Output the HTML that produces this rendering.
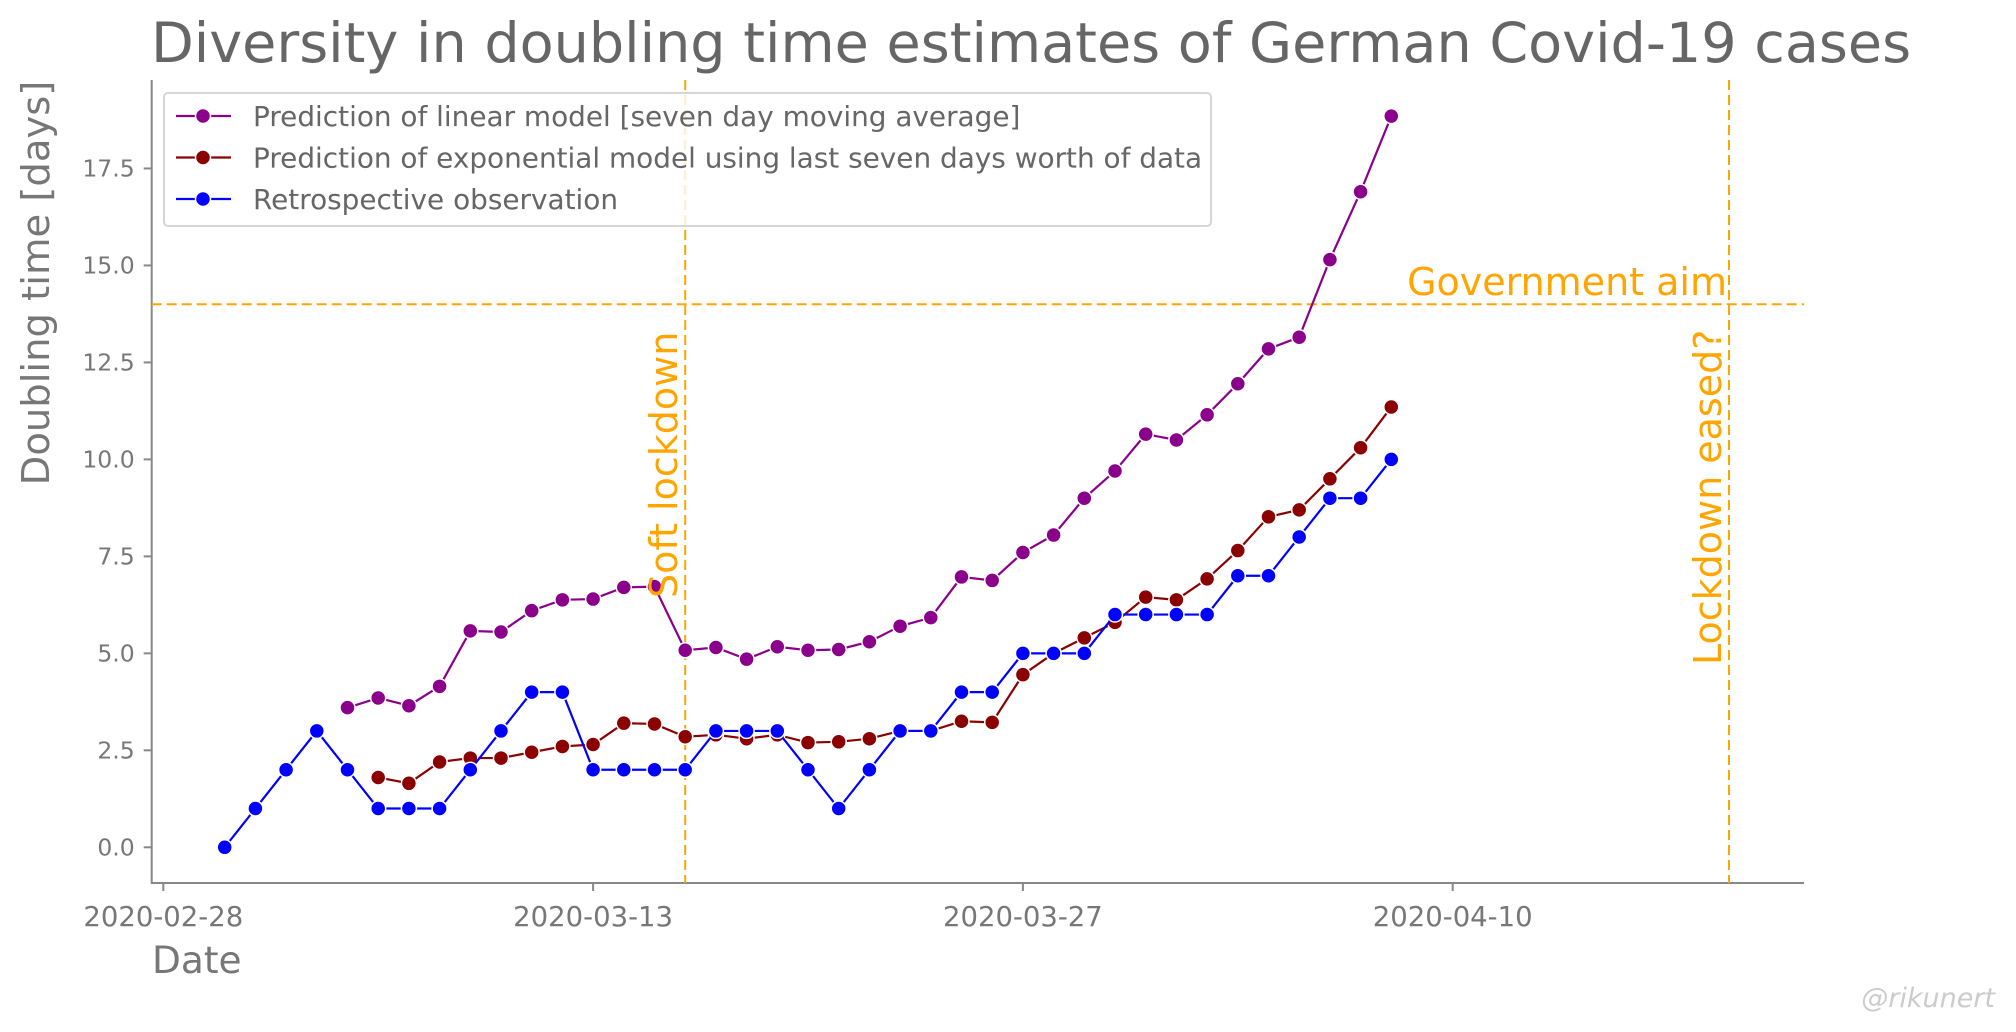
<!DOCTYPE html>
<html><head><meta charset="utf-8"><style>
html,body{margin:0;padding:0;background:#fff;}
svg{display:block;font-family:"DejaVu Sans","Liberation Sans",sans-serif;}
</style></head><body>
<svg id="chart" width="2016" height="1032" viewBox="0 0 2016 1032">
<text x="151" y="62" font-size="55.6" fill="#666">Diversity in doubling time estimates of German Covid-19 cases</text>
<g id="plot"></g>
<text x="36" y="283" font-size="38.5" fill="#777" text-anchor="middle" transform="rotate(-90 36 283)" dy="13">Doubling time [days]</text>
<text x="152" y="973" font-size="37.5" fill="#777">Date</text>
<text x="1995" y="1007" font-size="27" fill="#ccc" font-style="italic" text-anchor="end">@rikunert</text>
</svg>
<script>
const dateTicks = ['2020-02-28','2020-03-13','2020-03-27','2020-04-10'];
const dateTickDays = [0,14,28,42];
const yTicks = [0,2.5,5,7.5,10,12.5,15,17.5];
const observedStart = 2;
const observed = [0,1,2,3,2,1,1,1,2,3,4,4,2,2,2,2,3,3,3,2,1,2,3,3,4,4,5,5,5,6,6,6,6,7,7,8,9,9,10];
const linearStart = 6;
const linear = [3.6,3.85,3.65,4.15,5.58,5.55,6.1,6.38,6.4,6.7,6.72,5.08,5.15,4.85,5.17,5.08,5.1,5.3,5.7,5.92,6.97,6.88,7.6,8.05,9.0,9.7,10.65,10.5,11.15,11.95,12.85,13.15,15.15,16.9,18.85];
const expStart = 7;
const expo = [1.8,1.65,2.2,2.3,2.3,2.45,2.6,2.65,3.2,3.18,2.85,2.9,2.8,2.9,2.7,2.72,2.8,3.0,3.0,3.25,3.22,4.45,5.0,5.4,5.8,6.45,6.38,6.92,7.65,8.52,8.7,9.5,10.3,11.35];
const softLockdownDay = 17;
const easedDay = 51;
const governmentAim = 14;

const NS='http://www.w3.org/2000/svg';
const L=151.7,R=1804,B=883,T=80;
const xS=d=>163.3+d*30.7;
const yS=v=>847.3-v*38.79;
const g=document.getElementById('plot');
function mk(t,a){const e=document.createElementNS(NS,t);for(const k in a)e.setAttribute(k,a[k]);return e;}

let ax=mk('path',{d:`M${L} ${T} V${B} H${R}`,fill:'none',stroke:'#888','stroke-width':2});


g.appendChild(ax);
yTicks.forEach(v=>{
  const y=yS(v);
  const tk=mk('line',{x1:L-8,x2:L,y1:y,y2:y,stroke:'#888','stroke-width':2});
  
  
  g.appendChild(tk);
  const t=mk('text',{x:L-17,y:y+8,'font-size':23.5,fill:'#777','text-anchor':'end'});
  
  
  t.textContent=v.toFixed(1);g.appendChild(t);
});
dateTicks.forEach((s,i)=>{
  const x=xS(dateTickDays[i]);
  const tk=mk('line',{x1:x,x2:x,y1:B,y2:B+8,stroke:'#888','stroke-width':2});
  
  
  g.appendChild(tk);
  const t=mk('text',{x:x,y:926,'font-size':27.5,fill:'#777','text-anchor':'middle'});
  
  
  t.textContent=s;g.appendChild(t);
});

const ha=mk('line',{x1:L,x2:R,y1:yS(governmentAim),y2:yS(governmentAim),stroke:'orange','stroke-width':2,'stroke-dasharray':'10 5'});


g.appendChild(ha);
[[softLockdownDay,'soft-lockdown'],[easedDay,'lockdown-eased']].forEach(([d,n])=>{
  const x=xS(d);
  const l=mk('line',{x1:x,x2:x,y1:T,y2:B,stroke:'orange','stroke-width':2,'stroke-dasharray':'10 5'});
  
  
  g.appendChild(l);
});

function series(start,vals,color,name){
  const pts=vals.map((v,i)=>[xS(start+i),yS(v)]);
  const p=mk('polyline',{points:pts.map(q=>q.join(',')).join(' '),fill:'none',stroke:color,'stroke-width':2.2});
  
  
  g.appendChild(p);
  pts.forEach(q=>{
    const c=mk('circle',{cx:q[0],cy:q[1],r:7.5,fill:color,stroke:'#fff','stroke-width':1.5});
    
    
    g.appendChild(c);
  });
}
series(linearStart,linear,'#8b008b','linear-model');
series(expStart,expo,'#8b0000','exponential-model');
series(observedStart,observed,'#0000ff','observation');

const ga=mk('text',{x:xS(easedDay)-2,y:295,'font-size':38,fill:'orange','text-anchor':'end'});


ga.textContent='Government aim';g.appendChild(ga);
[[softLockdownDay,'Soft lockdown','soft-lockdown-label',598],[easedDay,'Lockdown eased?','lockdown-eased-label',665]].forEach(([d,lab,n,yb])=>{
  const x=xS(d)-8;
  const t=mk('text',{x:x,y:yb,'font-size':38,fill:'orange',transform:`rotate(-90 ${x} ${yb})`});
  
  
  t.textContent=lab;g.appendChild(t);
});

const lg=mk('g',{});


g.appendChild(lg);
const box=mk('rect',{x:164,y:93,width:1047,height:133,rx:4,fill:'rgba(255,255,255,0.8)',stroke:'#d6d6d6','stroke-width':2});


lg.appendChild(box);
[['#8b008b','Prediction of linear model [seven day moving average]'],['#8b0000','Prediction of exponential model using last seven days worth of data'],['#0000ff','Retrospective observation']].forEach(([c,lab],i)=>{
  const y=116+i*41.5;
  const ln=mk('line',{x1:176,x2:231,y1:y,y2:y,stroke:c,'stroke-width':2.2});
  
  
  lg.appendChild(ln);
  const m=mk('circle',{cx:203,cy:y,r:7.5,fill:c,stroke:'#fff','stroke-width':1.5});
  
  
  lg.appendChild(m);
  const t=mk('text',{x:253,y:y+10,'font-size':27.9,fill:'#666'});
  
  
  t.textContent=lab;lg.appendChild(t);
});
</script>
</body></html>
